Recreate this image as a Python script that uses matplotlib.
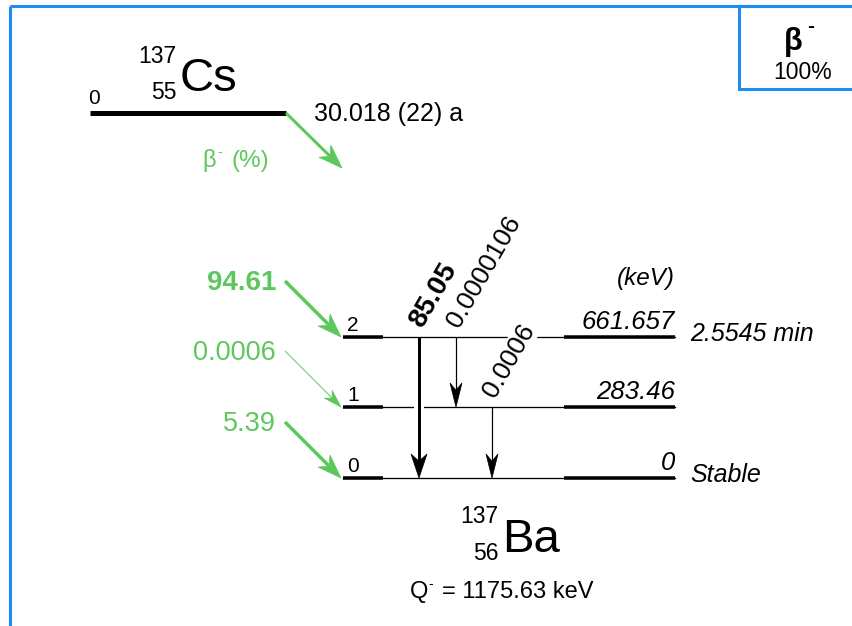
import numpy as np
import matplotlib
matplotlib.use('Agg')
import matplotlib.pyplot as plt
from matplotlib.patches import Polygon, Rectangle

plt.rcParams['font.family'] = ['Liberation Sans', 'DejaVu Sans']

# decay data: 137Cs -> 137Ba (beta-)
parent_sym, parent_A, parent_Z = 'Cs', 137, 55
parent_halflife = '30.018 (22) a'
daughter_sym, daughter_A, daughter_Z = 'Ba', 137, 56
q_value = 1175.63
branch_label = '100%'

level_index = [0, 1, 2]
level_energy = ['0', '283.46', '661.657']
level_halflife = ['Stable', '', '2.5545 min']
beta_feed = [5.39, 0.0006, 94.61]
beta_labels = ['5.39', '0.0006', '94.61']

gamma_from = [2, 2, 1]
gamma_to = [0, 1, 0]
gamma_int = [85.05, 0.0000106, 0.0006]
gamma_labels = ['85.05', '0.0000106', '0.0006']

# layout (pixels)
level_y = [478, 407, 337]
gamma_x = [419, 456, 492]
GREEN = '#5cc85c'
BLUE = '#1f8cf2'
PX = 0.72  # points per pixel at dpi 100


def arrow(ax, x0, y0, x1, y1, lw, color, hl, hw, z=3):
    d = np.array([x1 - x0, y1 - y0], float)
    u = d / np.hypot(*d)
    n = np.array([-u[1], u[0]])
    tip = np.array([x1, y1], float)
    base = tip - u * hl
    notch = tip - u * hl * 0.7
    ax.plot([x0, notch[0]], [y0, notch[1]], color=color, lw=lw * PX,
            solid_capstyle='butt', zorder=z)
    ax.add_patch(Polygon([tip, base + n * hw / 2, notch, base - n * hw / 2],
                         closed=True, facecolor=color, edgecolor=color,
                         lw=0.5, zorder=z))


fig = plt.figure(figsize=(8.53, 6.26), dpi=100)
ax = fig.add_axes([0, 0, 1, 1])
ax.set_xlim(0, 853)
ax.set_ylim(626, 0)
ax.axis('off')

# frame
ax.plot([10.5, 10.5], [626, 5.5], color=BLUE, lw=2.2, solid_capstyle='butt')
ax.plot([10.5, 853], [5.5, 5.5], color=BLUE, lw=2.2, solid_capstyle='butt')
ax.add_patch(Rectangle((739, 5.5), 130, 83, fill=False, edgecolor=BLUE, lw=2.2))
ax.text(784, 50, 'β', fontsize=22, fontweight='bold', ha='left', va='baseline')
ax.text(807, 32, '-', fontsize=15, fontweight='bold', ha='left', va='baseline')
ax.text(803, 79, branch_label, fontsize=16.5, ha='center', va='baseline')

# parent
ax.plot([90, 286], [113, 113], color='black', lw=5 * PX, solid_capstyle='butt')
ax.text(88, 104, '0', fontsize=15, ha='left', va='baseline')
ax.text(176, 63, str(parent_A), fontsize=16.5, ha='right', va='baseline')
ax.text(177, 99, str(parent_Z), fontsize=16.5, ha='right', va='baseline')
ax.text(180, 91, parent_sym, fontsize=34, ha='left', va='baseline')
ax.text(314, 121, parent_halflife, fontsize=18, ha='left', va='baseline')
arrow(ax, 286, 113, 342, 168, 3, GREEN, 24, 17)
ax.text(202, 167, 'β', fontsize=17, color=GREEN, ha='left', va='baseline')
ax.text(217, 156, '-', fontsize=10, color=GREEN, ha='left', va='baseline')
ax.text(232, 167, '(%)', fontsize=17.5, color=GREEN, ha='left', va='baseline')

# daughter levels
for i, e, hl in zip(level_index, level_energy, level_halflife):
    y = level_y[i]
    ax.plot([343, 675], [y, y], color='black', lw=1.3 * PX, zorder=1)
    ax.plot([343, 383], [y, y], color='black', lw=3.5 * PX,
            solid_capstyle='butt', zorder=1)
    ax.plot([564, 675], [y, y], color='black', lw=3.5 * PX,
            solid_capstyle='butt', zorder=1)
    ax.text(347, y - 6, str(i), fontsize=15, ha='left', va='baseline')
    ax.text(675, y - 8, e, fontsize=18.5, style='italic', ha='right', va='baseline')
    if hl:
        ax.text(690, y + 4, hl, fontsize=18, style='italic', ha='left', va='baseline')
ax.text(675, 285, '(keV)', fontsize=17.5, style='italic', ha='right', va='baseline')

# beta feeding
bmax = max(beta_feed)
for i, b, lab in zip(level_index, beta_feed, beta_labels):
    y = level_y[i]
    thick = b >= 1
    arrow(ax, 285, y - 56, 341, y, 3.5 if thick else 1.0, GREEN,
          24 if thick else 18, 17 if thick else 11)
    ax.text(276, y - 47, lab, fontsize=20 if b == bmax else 19.5,
            fontweight='bold' if b == bmax else 'normal', color=GREEN,
            ha='right', va='baseline')

# gamma transitions
gmax = max(gamma_int)
for gx, f, t, g, lab in zip(gamma_x, gamma_from, gamma_to, gamma_int, gamma_labels):
    y0, y1 = level_y[f], level_y[t]
    thick = g >= 1
    # white gap where the transition crosses an intermediate level
    for k in level_index:
        if t < k < f:
            ax.plot([gx - 5, gx + 5], [level_y[k]] * 2, color='white', lw=4,
                    solid_capstyle='butt', zorder=2)
    arrow(ax, gx, y0, gx, y1, 3 if thick else 1.2, 'black',
          24, 16 if thick else 12)
    ax.text(gx + 3, y0 - 8, lab, fontsize=20 if g == gmax else 19,
            fontweight='bold' if g == gmax else 'normal', rotation=60,
            rotation_mode='anchor', ha='left', va='baseline', zorder=4,
            bbox=dict(facecolor='white', edgecolor='none', pad=0.5))

# daughter nucleus
ax.text(498, 523, str(daughter_A), fontsize=16.5, ha='right', va='baseline')
ax.text(499, 560, str(daughter_Z), fontsize=16.5, ha='right', va='baseline')
ax.text(502, 552, daughter_sym, fontsize=34, ha='left', va='baseline')
ax.text(428, 598, 'Q', fontsize=17, ha='right', va='baseline')
ax.text(428, 588, '-', fontsize=10, ha='left', va='baseline')
ax.text(442, 598, '= %.2f keV' % q_value, fontsize=17, ha='left', va='baseline')

fig.savefig('out.png', dpi=100)
